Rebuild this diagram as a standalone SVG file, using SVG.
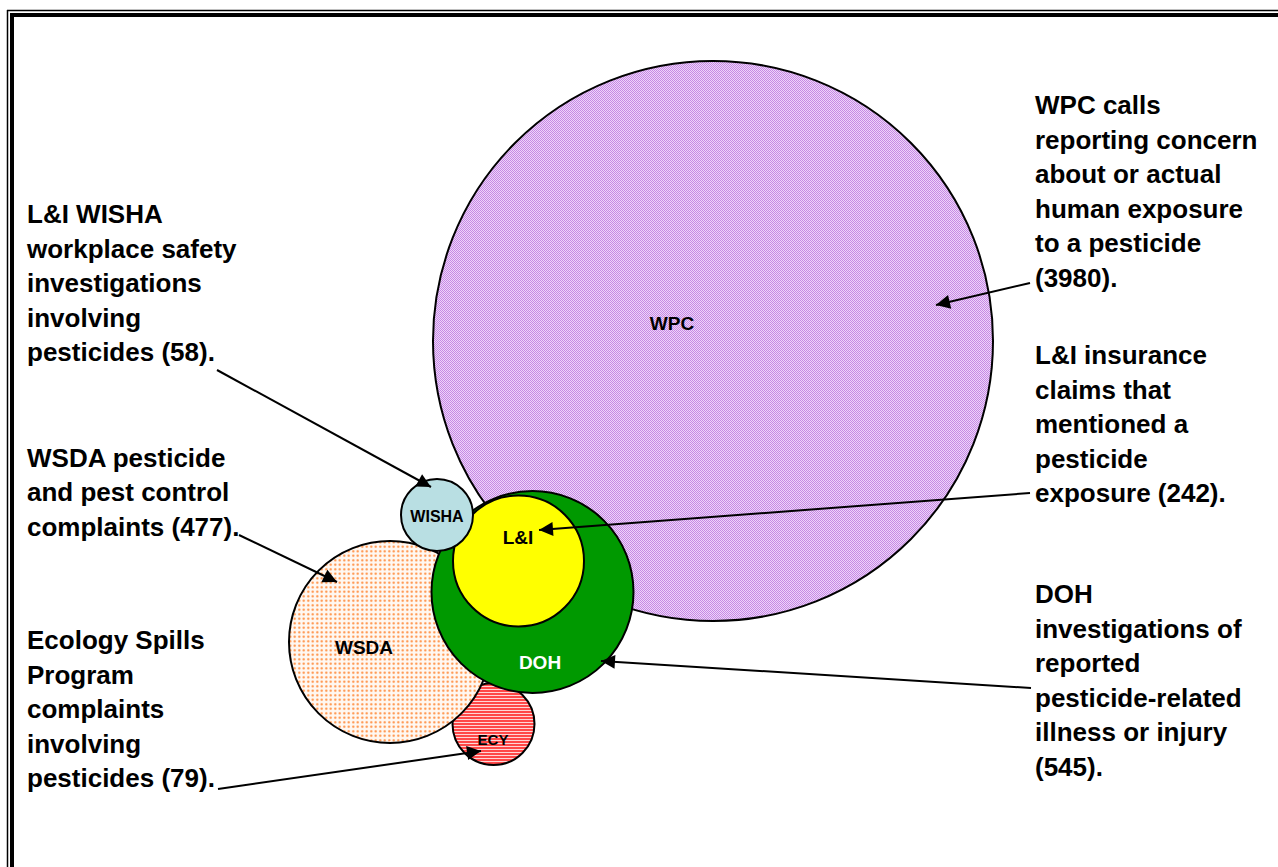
<svg xmlns="http://www.w3.org/2000/svg" width="1278" height="867" viewBox="0 0 1278 867">
<style>
.lbl{font-family:"Liberation Sans",Arial,sans-serif;font-weight:bold;font-size:26px;fill:#000}
.cl{font-family:"Liberation Sans",Arial,sans-serif;font-weight:bold;font-size:19px;fill:#000;text-anchor:middle}
.c{stroke:#000;stroke-width:2}
.arr{stroke:#000;stroke-width:2;fill:none;marker-end:url(#ah)}
</style>
<defs>
<pattern id="pWPC" width="2" height="2" patternUnits="userSpaceOnUse">
<rect width="2" height="2" fill="#eed4fa"/>
<rect width="1" height="1" fill="#c68ae4"/>
<rect x="1" y="1" width="1" height="1" fill="#c68ae4"/>
</pattern>
<pattern id="pWSDA" width="4.5" height="4.5" patternUnits="userSpaceOnUse">
<rect width="4.5" height="4.5" fill="#fff8f2"/>
<circle cx="2.25" cy="2.25" r="1.1" fill="#ff8836"/>
</pattern>
<pattern id="pECY" width="3" height="3" patternUnits="userSpaceOnUse">
<rect width="3" height="3" fill="#ffd6d6"/>
<rect width="3" height="2" fill="#ff4848"/>
</pattern>
<marker id="ah" viewBox="0 0 10 10" refX="10" refY="5" markerWidth="19" markerHeight="14" markerUnits="userSpaceOnUse" orient="auto" overflow="visible">
<path d="M0,0 L10,5 L0,10 z" fill="#000"/>
</marker>
</defs>
<rect width="1278" height="867" fill="#fff"/>
<g id="frame">
<line x1="7.5" y1="10" x2="7.5" y2="867" stroke="#000" stroke-width="1.5"/>
<line x1="7" y1="10.5" x2="1278" y2="10.5" stroke="#000" stroke-width="1.5"/>
<line x1="12" y1="13" x2="12" y2="867" stroke="#000" stroke-width="4"/>
<line x1="10" y1="15" x2="1278" y2="15" stroke="#000" stroke-width="4"/>
</g>
<g id="WPC">
<circle class="c" cx="713" cy="341" r="280" fill="url(#pWPC)"/>
<text class="cl" x="672" y="330">WPC</text>
</g>
<g id="ECY">
<circle class="c" cx="493.5" cy="724" r="41" fill="url(#pECY)"/>
<text class="cl" x="493" y="745" style="font-size:15px">ECY</text>
</g>
<g id="WSDA">
<circle class="c" cx="390" cy="642" r="101" fill="url(#pWSDA)"/>
<text class="cl" x="364" y="654">WSDA</text>
</g>
<g id="DOH">
<circle class="c" cx="532.5" cy="592" r="101" fill="#009900"/>
<text class="cl" x="540" y="669" style="fill:#fff">DOH</text>
</g>
<g id="LI">
<circle class="c" cx="518.5" cy="561" r="65.5" fill="#ffff00"/>
<text class="cl" x="518" y="544">L&amp;I</text>
</g>
<g id="WISHA">
<circle class="c" cx="437" cy="515" r="36" fill="#b9dfe3"/>
<text class="cl" x="437" y="522" style="font-size:16px">WISHA</text>
</g>
<g id="connectors">
<line class="arr" x1="217" y1="370" x2="431" y2="487"/>
<line class="arr" x1="239" y1="535" x2="337" y2="582"/>
<line class="arr" x1="218" y1="789" x2="481" y2="751"/>
<line class="arr" x1="1030" y1="493" x2="539" y2="530"/>
<line class="arr" x1="1031" y1="688" x2="601" y2="661"/>
<line class="arr" x1="1030" y1="283" x2="936" y2="305"/>
</g>
<g id="labels">
<text class="lbl"><tspan x="27" y="223">L&amp;I WISHA</tspan><tspan x="27" y="257.5">workplace safety</tspan><tspan x="27" y="292">investigations</tspan><tspan x="27" y="326.5">involving</tspan><tspan x="27" y="361">pesticides (58).</tspan></text>
<text class="lbl"><tspan x="27" y="467">WSDA pesticide</tspan><tspan x="27" y="501">and pest control</tspan><tspan x="27" y="536">complaints (477).</tspan></text>
<text class="lbl"><tspan x="27" y="649">Ecology Spills</tspan><tspan x="27" y="683.5">Program</tspan><tspan x="27" y="718">complaints</tspan><tspan x="27" y="752.5">involving</tspan><tspan x="27" y="787">pesticides (79).</tspan></text>
<text class="lbl"><tspan x="1035" y="114">WPC calls</tspan><tspan x="1035" y="148.5">reporting concern</tspan><tspan x="1035" y="183">about or actual</tspan><tspan x="1035" y="217.5">human exposure</tspan><tspan x="1035" y="252">to a pesticide</tspan><tspan x="1035" y="286.5">(3980).</tspan></text>
<text class="lbl"><tspan x="1035" y="364">L&amp;I insurance</tspan><tspan x="1035" y="398.5">claims that</tspan><tspan x="1035" y="433">mentioned a</tspan><tspan x="1035" y="467.5">pesticide</tspan><tspan x="1035" y="502">exposure (242).</tspan></text>
<text class="lbl"><tspan x="1035" y="603">DOH</tspan><tspan x="1035" y="637.5">investigations of</tspan><tspan x="1035" y="672">reported</tspan><tspan x="1035" y="706.5">pesticide-related</tspan><tspan x="1035" y="741">illness or injury</tspan><tspan x="1035" y="775.5">(545).</tspan></text>
</g>
</svg>
